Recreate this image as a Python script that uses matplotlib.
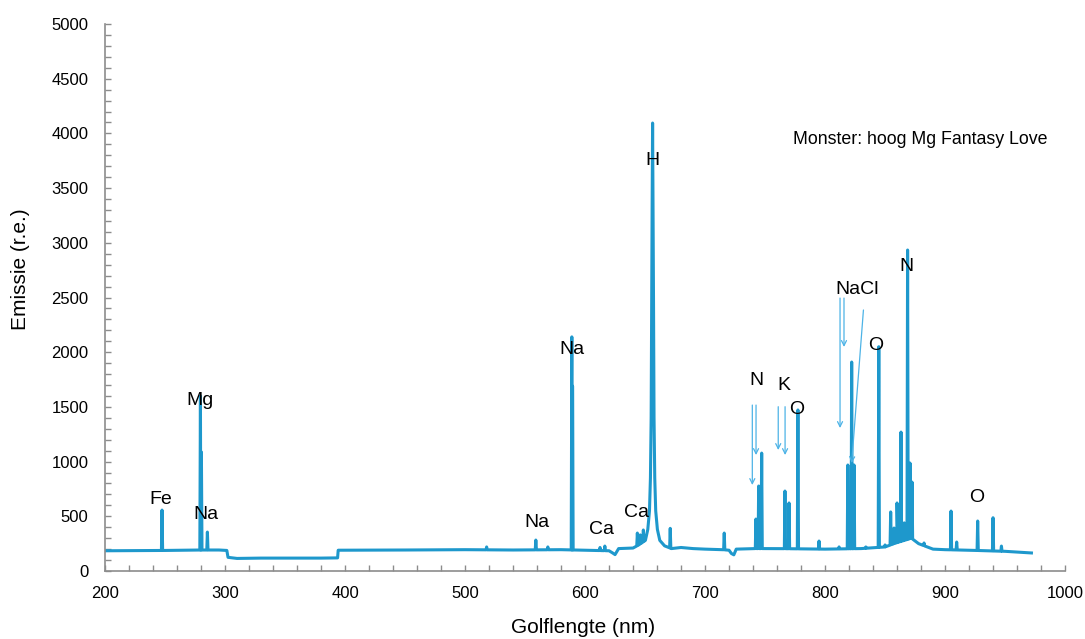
import numpy as np
import matplotlib
matplotlib.use("Agg")
import matplotlib.pyplot as plt
from matplotlib.ticker import MultipleLocator

plt.rcParams['font.family'] = ['Liberation Sans', 'DejaVu Sans']

# continuum / baseline (nm, counts), incl. the broad H-alpha profile
base_wl = [200, 250, 280, 295, 301.5, 302.5, 310, 330, 380, 393.8, 394.3, 450, 500, 540, 580,
           600, 620, 623, 625, 628, 640, 645, 650.3, 652.3, 653.7, 654.5, 655.1, 655.5, 655.9,
           656.3, 656.7, 657.1, 657.5, 658.1, 658.9, 660.3, 662.3, 666.3, 672, 680, 690, 700,
           715, 720, 722, 724, 726, 740, 760, 800, 830, 850, 860, 872, 878, 890, 900, 920, 950, 972]
base_val = [185, 188, 192, 192, 188, 125, 115, 118, 118, 120, 190, 192, 195, 192, 195,
            190, 185, 165, 150, 205, 210, 240, 280, 380, 550, 850, 1400, 2400, 3300,
            4095, 3300, 2400, 1400, 850, 550, 380, 280, 230, 205, 215, 205, 200,
            195, 190, 160, 148, 200, 205, 205, 200, 205, 220, 260, 300, 250, 200, 195, 190, 180, 165]

# narrow emission lines (nm, peak counts)
line_wl = [247.5, 279.5, 280.3, 285.3, 518, 559, 569, 589.0, 589.6, 612.5, 616.5,
           643.6, 646.0, 648.6, 671, 716, 742.4, 744.7, 747.2, 766.6, 770.0, 777.4,
           795, 811.7, 819.0, 820.2, 822.2, 824.2, 834, 844.8, 850, 854.7, 857.5,
           860.0, 863.3, 866.0, 868.8, 870.8, 872.5, 882.5, 905, 909.7, 927.2, 940, 947]
line_val = [557, 1600, 1088, 356, 220, 283, 220, 2140, 1690, 215, 228,
            347, 330, 375, 390, 347, 475, 777, 1078, 731, 622, 1472,
            274, 220, 969, 585, 1910, 969, 220, 2050, 238, 540, 393,
            622, 1270, 440, 2934, 987, 813, 256, 548, 265, 457, 487, 228]

# element labels (text, nm, counts)
lab_txt = ['Fe', 'Mg', 'Na', 'Na', 'Na', 'Ca', 'Ca', 'H', 'N', 'K', 'O', 'NaCl', 'O', 'N', 'O']
lab_x = [246.5, 279, 284, 560, 589, 614, 643, 656, 743, 766, 776, 826.5, 842.5, 867.5, 926]
lab_y = [658, 1563, 512, 448, 2029, 384, 539, 3748, 1746, 1700, 1472, 2569, 2057, 2779, 676]

# arrows (start nm, start counts, end nm, end counts)
arr_x0 = [739.4, 742.5, 761.0, 766.7, 812.5, 815.8, 832.0]
arr_y0 = [1517, 1517, 1502, 1502, 2495, 2495, 2386]
arr_x1 = [739.4, 742.5, 761.0, 766.7, 812.5, 815.8, 822.2]
arr_y1 = [786, 1060, 1106, 1060, 1307, 2048, 987]

# build spectrum polyline
hw = 0.5
xs = list(base_wl)
ys = list(base_val)
for c, h in zip(line_wl, line_val):
    for dx in (-hw, hw):
        xs.append(c + dx)
        ys.append(float(np.interp(c + dx, base_wl, base_val)))
    xs.append(c)
    ys.append(h)
order = np.argsort(xs, kind='stable')
xs = np.array(xs)[order]
ys = np.array(ys)[order]

fig = plt.figure(figsize=(10.85, 6.39), dpi=100)
ax = fig.add_axes([0.0968, 0.1064, 0.8848, 0.856])

blue = '#1e98cc'
ax.plot(xs, ys, color=blue, lw=2.2, solid_joinstyle='round')

for t, x, y in zip(lab_txt, lab_x, lab_y):
    ax.text(x, y, t, ha='center', va='center', fontsize=14, color='black')

for x0, y0, x1, y1 in zip(arr_x0, arr_y0, arr_x1, arr_y1):
    ax.annotate('', xy=(x1, y1), xytext=(x0, y0),
                arrowprops=dict(arrowstyle='->', color='#4db3e6', lw=0.9,
                                shrinkA=0, shrinkB=0, mutation_scale=9))

ax.text(879, 3949, 'Monster: hoog Mg Fantasy Love', ha='center', va='center', fontsize=12.8)

ax.set_xlim(200, 1000)
ax.set_ylim(0, 5000)
ax.xaxis.set_major_locator(MultipleLocator(100))
ax.xaxis.set_minor_locator(MultipleLocator(20))
ax.yaxis.set_major_locator(MultipleLocator(500))
ax.yaxis.set_minor_locator(MultipleLocator(100))
ax.tick_params(which='both', direction='in', color='#8c8c8c', length=4, width=1)
ax.tick_params(axis='y', labelsize=12, pad=12)
ax.tick_params(axis='x', labelsize=12, pad=11)
for s in ['top', 'right']:
    ax.spines[s].set_visible(False)
for s in ['left', 'bottom']:
    ax.spines[s].set_color('#8c8c8c')
    ax.spines[s].set_linewidth(1.2)

ax.set_xlabel('Golflengte (nm)', fontsize=15)
ax.set_ylabel('Emissie (r.e.)', fontsize=15)
ax.xaxis.set_label_coords(0.498, -0.086)
ax.yaxis.set_label_coords(-0.078, 0.552)

fig.savefig('out.png', dpi=100)
